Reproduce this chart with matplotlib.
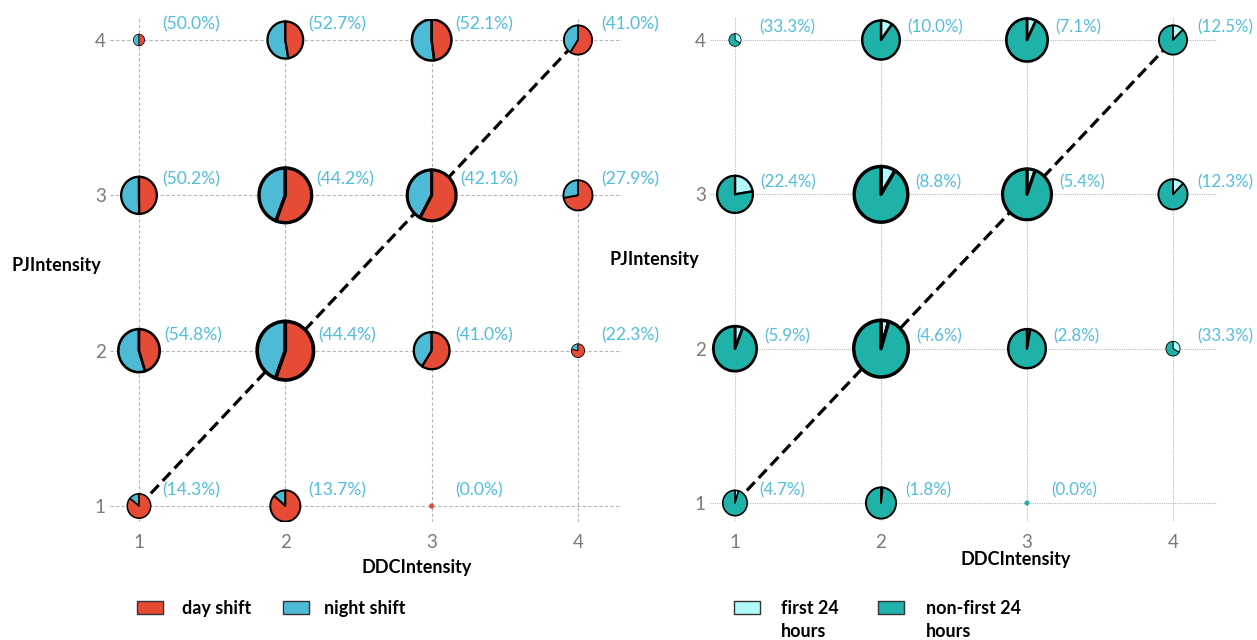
import matplotlib
matplotlib.use("Agg")
import matplotlib.pyplot as plt
from matplotlib.patches import Wedge, Rectangle
from matplotlib.transforms import Affine2D, ScaledTranslation

plt.rcParams['font.family'] = ['Lato', 'DejaVu Sans']

# ---------------- data ----------------
ddc = [1, 2, 3, 4, 1, 2, 3, 4, 1, 2, 3, 4, 1, 2, 3]
pj = [4, 4, 4, 4, 3, 3, 3, 3, 2, 2, 2, 2, 1, 1, 1]

# left panel: share of night shift (%)
night_pct = [50.0, 52.7, 52.1, 41.0,
             50.2, 44.2, 42.1, 27.9,
             54.8, 44.4, 41.0, 22.3,
             14.3, 13.7, 0.0]
# relative pie size (sample size encoding), left panel
size_left = [6, 19, 21, 15,
             19, 28, 26, 15.5,
             22, 30, 19, 7,
             12.5, 16, 2.5]

# right panel: share of first 24 hours (%)
first24_pct = [33.3, 10.0, 7.1, 12.5,
               22.4, 8.8, 5.4, 12.3,
               5.9, 4.6, 2.8, 33.3,
               4.7, 1.8, 0.0]
size_right = [6.5, 20, 22, 15,
              19, 28.5, 26, 15.5,
              23, 29, 20, 7.5,
              13, 16, 2.5]

ticks = [1, 2, 3, 4]
left_legend = ['day shift', 'night shift']
right_legend = ['first 24\nhours', 'non-first 24\nhours']

RED = '#E64B35'
BLUE = '#4DBBD5'
TEAL = '#1FB2A8'
LIGHT = '#B2FBFB'
LABEL_C = '#52BEDB'

W, H = 1257, 640
fig = plt.figure(figsize=(W / 100, H / 100), dpi=100)


def make_axes(L, R, T, B, x1px, x4px, y4px, y1px):
    ax = fig.add_axes([L / W, 1 - B / H, (R - L) / W, (B - T) / H])
    sx = (x4px - x1px) / 3.0
    sy = (y1px - y4px) / 3.0
    ax.set_xlim(1 - (x1px - L) / sx, 4 + (R - x4px) / sx)
    ax.set_ylim(1 - (B - y1px) / sy, 4 + (y4px - T) / sy)
    ax.set_autoscale_on(False)
    for s in ax.spines.values():
        s.set_visible(False)
    ax.set_xticks(ticks)
    ax.set_yticks(ticks)
    ax.tick_params(length=0, labelsize=13.5, labelcolor='#7a7a7a')
    ax.tick_params(axis='x', pad=9)
    ax.tick_params(axis='y', pad=3)
    return ax, sx


def draw_pie(ax, x, y, r_px, frac, colors, ccw):
    lw_px = max(0.12 * r_px, 0.3)
    rg = r_px - lw_px / 2
    trans = Affine2D().scale(rg, rg * 1.04) + ScaledTranslation(x, y, ax.transData)
    a = frac * 360.0
    if ccw:
        parts = [(90, 90 + a, colors[0]), (90 + a, 450, colors[1])]
    else:
        parts = [(90 - a, 90, colors[0]), (90, 450 - a, colors[1])]
    for t1, t2, c in parts:
        if t2 - t1 <= 0:
            continue
        w = Wedge((0, 0), 1, t1, t2, facecolor=c,
                  edgecolor='black' if r_px > 4 else c,
                  linewidth=lw_px * 0.72, transform=trans, zorder=3,
                  joinstyle='round')
        ax.add_patch(w)


# ---------------- left panel ----------------
axL, sxL = make_axes(110, 622, 19, 522, 139, 578, 40, 506)
axL.grid(True, color='#b5b5b5', linestyle=(0, (3, 2)), linewidth=0.8, zorder=0)
axL.set_axisbelow(True)
axL.plot([1, 4], [1, 4], color='black', lw=2.3, linestyle=(0, (3.6, 1.8)), zorder=2)
for x, y, p, s in zip(ddc, pj, night_pct, size_left):
    draw_pie(axL, x, y, s, p / 100.0, (BLUE, RED), True)
    dx = max(0.16, s / sxL + 0.02)
    axL.text(x + dx, y + 0.1, f"({p:.1f}%)", color=LABEL_C, fontsize=12.6,
             ha='left', va='center', zorder=4)

# ---------------- right panel ----------------
axR, sxR = make_axes(710, 1217, 17, 521, 735, 1173, 40, 503)
axR.grid(True, color='#b8b8b8', linestyle=(0, (1, 1)), linewidth=0.8, zorder=0)
axR.set_axisbelow(True)
axR.plot([1, 4], [1, 4], color='black', lw=2.3, linestyle=(0, (3.6, 1.8)), zorder=2)
for x, y, p, s in zip(ddc, pj, first24_pct, size_right):
    draw_pie(axR, x, y, s, p / 100.0, (LIGHT, TEAL), False)
    dx = max(0.165, s / sxR + 0.04)
    axR.text(x + dx, y + 0.08, f"({p:.1f}%)", color=LABEL_C, fontsize=12.2,
             ha='left', va='center', zorder=4)

# ---------------- axis titles ----------------
def ftext(xp, yp, s, **kw):
    fig.text(xp / W, 1 - yp / H, s, **kw)

ftext(417, 568, 'DDCIntensity', ha='center', va='center', fontweight='bold', fontsize=13)
ftext(56, 265, 'PJIntensity', ha='center', va='center', fontweight='bold', fontsize=13)
ftext(1016, 560, 'DDCIntensity', ha='center', va='center', fontweight='bold', fontsize=13)
ftext(654, 260, 'PJIntensity', ha='center', va='center', fontweight='bold', fontsize=13)

# ---------------- legends ----------------
def legend_item(xp, yp, color, label, text_x):
    fig.add_artist(Rectangle((xp / W, 1 - (yp + 13) / H), 26 / W, 13 / H,
                             facecolor=color, edgecolor='#333333', linewidth=1.0,
                             transform=fig.transFigure))
    ftext(text_x, yp - 1, label, ha='left', va='top', fontweight='bold',
          fontsize=13, linespacing=1.45)

legend_item(137, 601, RED, left_legend[0], 182)
legend_item(283, 601, BLUE, left_legend[1], 324)
legend_item(734, 601, LIGHT, right_legend[0], 781)
legend_item(878, 601, TEAL, right_legend[1], 926)

fig.savefig('out.png', dpi=100)
